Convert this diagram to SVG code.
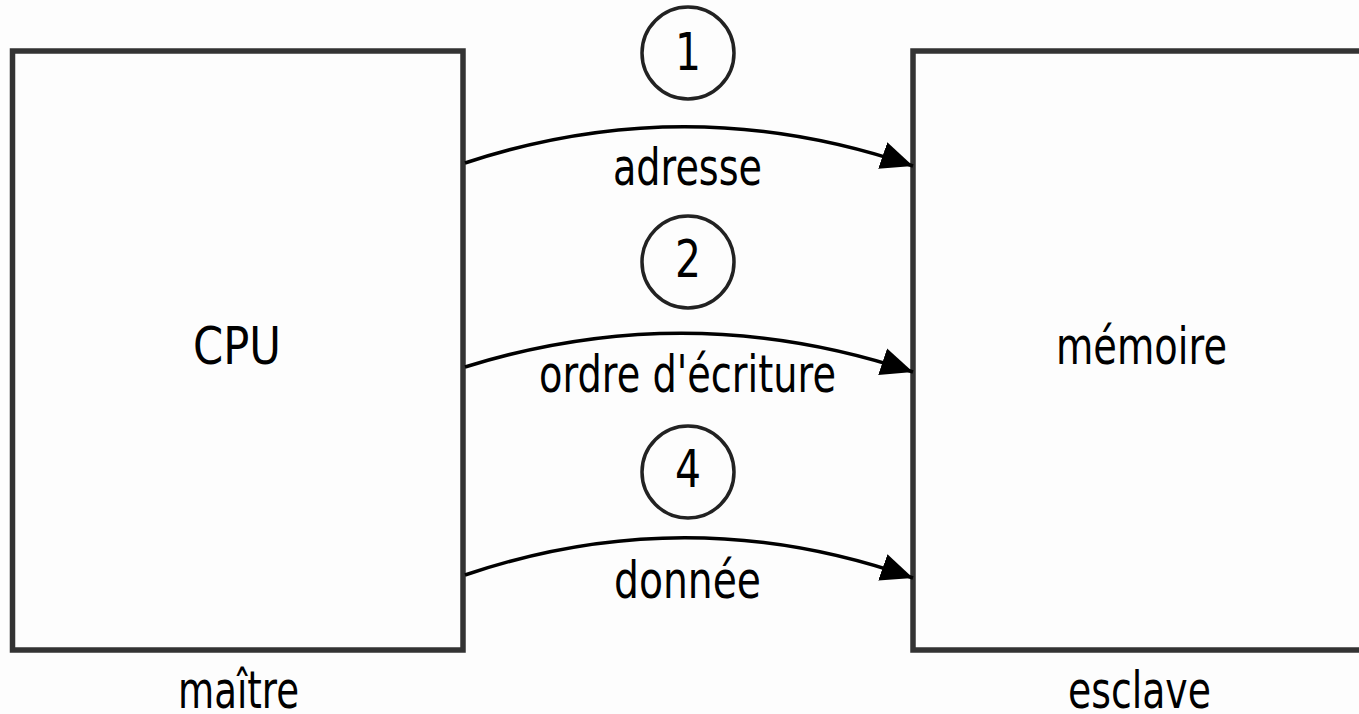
<svg xmlns="http://www.w3.org/2000/svg" width="1359" height="714" viewBox="0 0 1359 714">
<defs>
<style>
.box{fill:none;stroke:#333;stroke-width:5.5}
.conn{fill:none;stroke:#000;stroke-width:3.5}
.num{fill:none;stroke:#222;stroke-width:3.5}
text{font-family:"DejaVu Sans","Verdana",sans-serif;font-size:52px;fill:#000;text-anchor:middle}
</style>
<marker id="arr" markerUnits="userSpaceOnUse" markerWidth="34" markerHeight="30" refX="32" refY="15" orient="auto">
<path d="M0,1 L32,15 L0,29 Z" fill="#000"/>
</marker>
</defs>
<rect x="0" y="0" width="1359" height="714" fill="#fdfdfd"/>
<g id="cpu">
<rect class="box" x="12.5" y="51" width="450.5" height="599"/>
<text x="237" y="364" textLength="88" lengthAdjust="spacingAndGlyphs">CPU</text>
<text x="238.5" y="708" textLength="121" lengthAdjust="spacingAndGlyphs">maître</text>
</g>
<g id="memoire">
<rect class="box" x="913" y="51" width="470" height="599"/>
<text x="1141.5" y="364" textLength="171" lengthAdjust="spacingAndGlyphs">mémoire</text>
<text x="1139.5" y="708" textLength="143" lengthAdjust="spacingAndGlyphs">esclave</text>
</g>
<g id="connectors">
<path class="conn" d="M465,163 Q689,89 913,166" marker-end="url(#arr)"/>
<path class="conn" d="M465,367 Q689,297 913,372" marker-end="url(#arr)"/>
<path class="conn" d="M465,575 Q689,499 913,578" marker-end="url(#arr)"/>
</g>
<g id="label1">
<circle class="num" cx="688" cy="53" r="46"/>
<text x="688" y="70" textLength="26" lengthAdjust="spacingAndGlyphs">1</text>
<text x="687.5" y="185" textLength="149" lengthAdjust="spacingAndGlyphs">adresse</text>
</g>
<g id="label2">
<circle class="num" cx="688" cy="262" r="46"/>
<text x="688" y="277" textLength="26" lengthAdjust="spacingAndGlyphs">2</text>
<text x="687.5" y="392" textLength="297" lengthAdjust="spacingAndGlyphs">ordre d'écriture</text>
</g>
<g id="label4">
<circle class="num" cx="688" cy="472" r="46"/>
<text x="688" y="487" textLength="26" lengthAdjust="spacingAndGlyphs">4</text>
<text x="687.5" y="598" textLength="147" lengthAdjust="spacingAndGlyphs">donnée</text>
</g>
</svg>
